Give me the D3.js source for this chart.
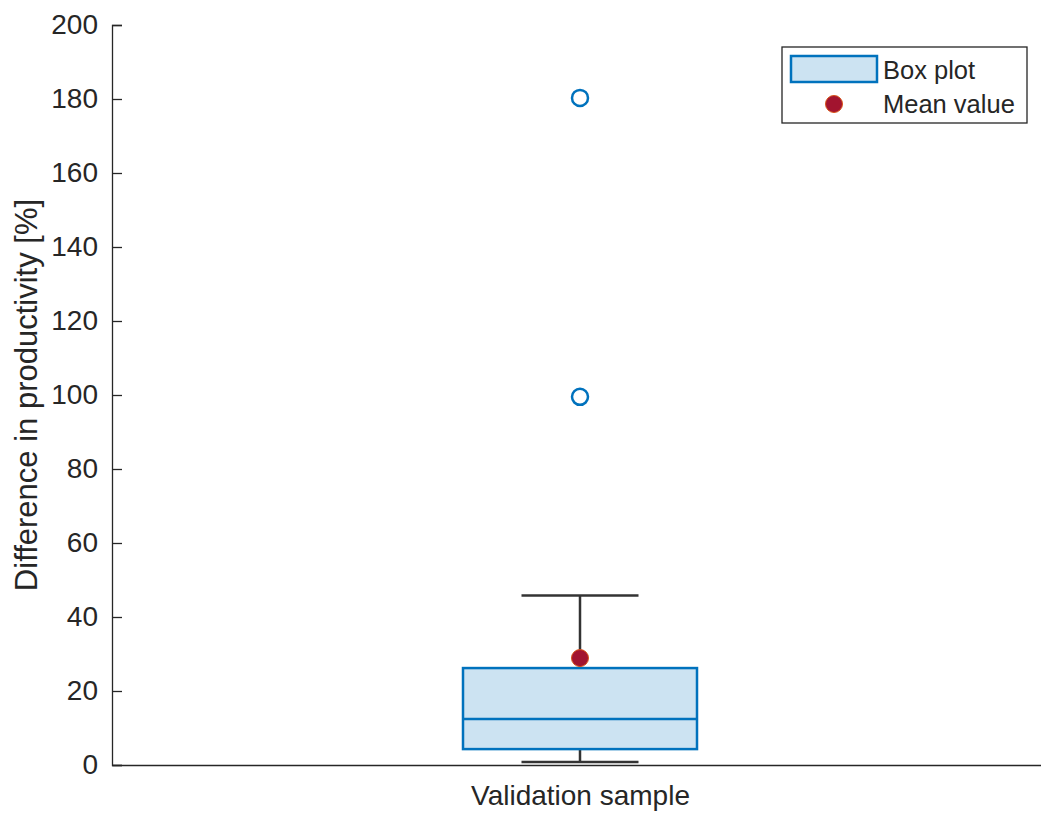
<!DOCTYPE html>
<html>
<head>
<meta charset="utf-8">
<script src="https://cdnjs.cloudflare.com/ajax/libs/d3/7.8.5/d3.min.js"></script>
<style>
  body { margin: 0; background: #fff; }
  text { font-family: "Liberation Sans", Arial, sans-serif; fill: #262626; }
</style>
</head>
<body>
<div id="chart"></div>
<script>
// data
var categories = ["Validation sample"];
var q1 = [4.3];
var medians = [12.4];
var q3 = [26.2];
var whiskerLow = [0.8];
var whiskerHigh = [45.8];
var means = [28.9];
var outliers = [[99.5, 180.3]];
var yTicks = [0, 20, 40, 60, 80, 100, 120, 140, 160, 180, 200];
var legendLabels = ["Box plot", "Mean value"];

var width = 1041, height = 819;
var margin = {top: 25, right: -7, bottom: 54, left: 112};

var svg = d3.select("#chart").append("svg")
    .attr("width", width)
    .attr("height", height);

var x = d3.scaleLinear()
    .domain([0.5, categories.length + 0.5])
    .range([margin.left, width - margin.right]);

var y = d3.scaleLinear()
    .domain([0, 200])
    .range([height - margin.bottom, margin.top]);

var axisColor = "#262626";

// y axis, ticks pointing inward
var yAxis = svg.append("g")
    .attr("transform", "translate(" + margin.left + ",0)")
    .call(d3.axisLeft(y).tickValues(yTicks).tickSize(-10).tickPadding(14));
yAxis.select(".domain").attr("stroke", axisColor).attr("stroke-width", 1.3);
yAxis.selectAll(".tick line").attr("stroke", axisColor).attr("stroke-width", 1.3);
yAxis.selectAll(".tick text").style("font-size", "28px").attr("fill", axisColor);

// x axis line and category label
var xAxis = svg.append("g")
    .attr("transform", "translate(0," + y(0) + ")")
    .call(d3.axisBottom(x).tickValues(d3.range(1, categories.length + 1))
        .tickFormat(function(d) { return categories[d - 1]; })
        .tickSize(0).tickPadding(20).tickSizeOuter(0));
xAxis.select(".domain").attr("stroke", axisColor).attr("stroke-width", 1.3);
xAxis.selectAll(".tick text").style("font-size", "28px").attr("fill", axisColor);

// y label
svg.append("text")
    .attr("transform", "translate(37," + y(100) + ") rotate(-90)")
    .attr("text-anchor", "middle")
    .style("font-size", "31px")
    .text("Difference in productivity [%]");

var blue = "#0072BD";
var boxFill = "#cce3f2";
var whiskerColor = "#333333";
var boxHalf = 0.125, capHalf = 0.0625;

categories.forEach(function(c, i) {
    var cx = i + 1;
    var g = svg.append("g");

    // whiskers
    g.append("line")
        .attr("x1", x(cx)).attr("x2", x(cx))
        .attr("y1", y(q3[i])).attr("y2", y(whiskerHigh[i]))
        .attr("stroke", whiskerColor).attr("stroke-width", 2.5);
    g.append("line")
        .attr("x1", x(cx)).attr("x2", x(cx))
        .attr("y1", y(q1[i])).attr("y2", y(whiskerLow[i]))
        .attr("stroke", whiskerColor).attr("stroke-width", 2.5);
    [whiskerLow[i], whiskerHigh[i]].forEach(function(v) {
        g.append("line")
            .attr("x1", x(cx - capHalf)).attr("x2", x(cx + capHalf))
            .attr("y1", y(v)).attr("y2", y(v))
            .attr("stroke", whiskerColor).attr("stroke-width", 2.5);
    });

    // box
    g.append("rect")
        .attr("x", x(cx - boxHalf))
        .attr("y", y(q3[i]))
        .attr("width", x(cx + boxHalf) - x(cx - boxHalf))
        .attr("height", y(q1[i]) - y(q3[i]))
        .attr("fill", boxFill)
        .attr("stroke", blue).attr("stroke-width", 2.5);
    g.append("line")
        .attr("x1", x(cx - boxHalf)).attr("x2", x(cx + boxHalf))
        .attr("y1", y(medians[i])).attr("y2", y(medians[i]))
        .attr("stroke", blue).attr("stroke-width", 2.5);

    // outliers
    g.selectAll(".outlier").data(outliers[i]).enter().append("circle")
        .attr("cx", x(cx)).attr("cy", function(d) { return y(d); })
        .attr("r", 8)
        .attr("fill", "none")
        .attr("stroke", blue).attr("stroke-width", 2.5);

    // mean
    g.append("circle")
        .attr("cx", x(cx)).attr("cy", y(means[i]))
        .attr("r", 8.5)
        .attr("fill", "#A2142F")
        .attr("stroke", "#D95319").attr("stroke-width", 1);
});

// legend
var lg = svg.append("g").attr("transform", "translate(782,47)");
lg.append("rect")
    .attr("width", 245).attr("height", 76)
    .attr("fill", "#fff").attr("stroke", axisColor).attr("stroke-width", 1.3);
lg.append("rect")
    .attr("x", 9).attr("y", 9).attr("width", 86).attr("height", 26)
    .attr("fill", boxFill).attr("stroke", blue).attr("stroke-width", 2.5);
lg.append("circle")
    .attr("cx", 52).attr("cy", 57).attr("r", 8.5)
    .attr("fill", "#A2142F").attr("stroke", "#D95319").attr("stroke-width", 1);
lg.selectAll(".lab").data(legendLabels).enter().append("text")
    .attr("x", 101)
    .attr("y", function(d, i) { return 32 + i * 34; })
    .style("font-size", "25.5px")
    .text(function(d) { return d; });
</script>
</body>
</html>
